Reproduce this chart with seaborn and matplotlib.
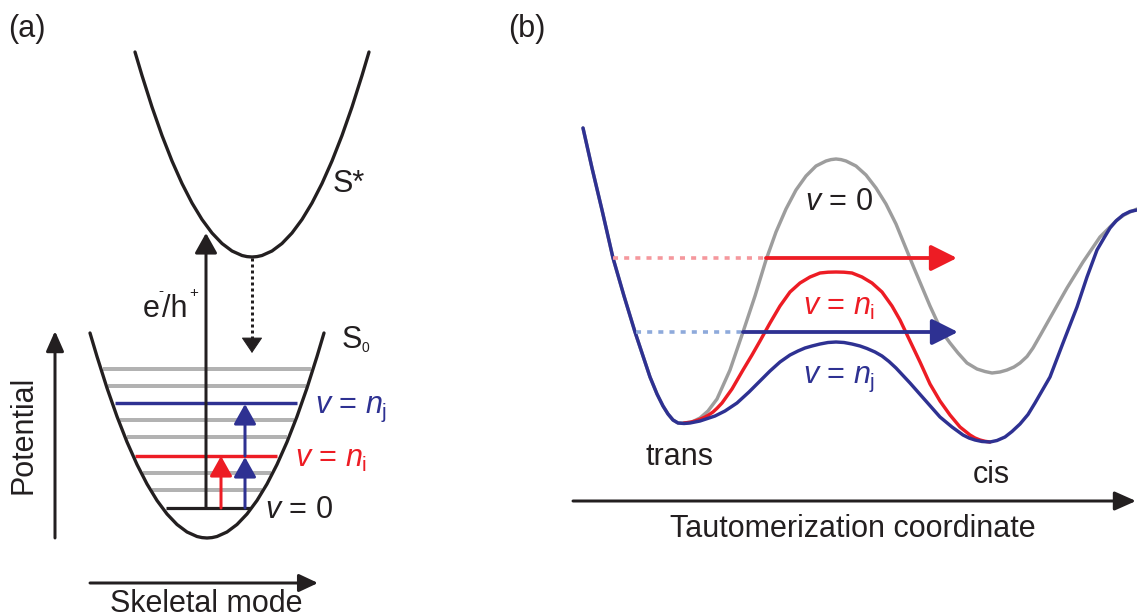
import matplotlib
matplotlib.use("Agg")
import matplotlib.pyplot as plt
from matplotlib.patches import ArrowStyle
import seaborn as sns

# ---------------- data (pixel units, y grows downward) ----------------
# panel (a): excited-state potential S*
s_star_x = [135, 142, 152, 162, 172, 182, 192, 202, 212, 222, 232, 242, 247, 252,
            257, 262, 272, 282, 292, 302, 312, 322, 332, 342, 352, 362, 369]
s_star_y = [52, 75.5, 107, 135.5, 161, 183.5, 203, 219.5, 233, 243.5, 251, 255.5, 256.6, 257,
            256.6, 255.5, 251, 243.5, 233, 219.5, 203, 183.5, 161, 135.5, 107, 75.5, 52]
# panel (a): ground-state potential S0
s0_x = [90, 97, 107, 117, 127, 137, 147, 157, 167, 177, 187, 197, 202, 207,
        212, 217, 227, 237, 247, 257, 267, 277, 287, 297, 307, 317, 324]
s0_y = [333, 356.5, 388, 416.5, 442, 464.5, 484, 500.5, 514, 524.5, 532, 536.5, 537.6, 538,
        537.6, 536.5, 532, 524.5, 514, 500.5, 484, 464.5, 442, 416.5, 388, 356.5, 333]
# vibrational levels inside S0
level_y = [369, 386, 403, 420, 437, 456, 473, 490, 508]
level_x0 = [103, 108, 115, 120, 127, 135, 143, 152, 166]
level_x1 = [311, 306, 297, 294, 287, 277, 271, 262, 250]
level_kind = ["gray", "gray", "nj", "gray", "gray", "ni", "gray", "gray", "v0"]

# panel (b): tautomerization potentials
nj_x = [583, 592, 602, 613, 624, 635, 643, 650, 657, 663, 668, 673, 678, 684, 690, 700, 715,
        725, 737, 749, 760, 770, 780, 790, 798, 805, 812, 820, 828, 836, 844, 852, 860, 867,
        875, 882, 889, 896, 910, 925, 940, 952, 963, 969, 975, 982, 990, 997, 1005, 1012,
        1020, 1028, 1035, 1050, 1063, 1077, 1087, 1097, 1104, 1110, 1116, 1123, 1130, 1137]
nj_y = [128, 168, 210, 258, 296, 332, 356, 377, 394, 406, 414, 420, 423, 423.5, 423, 421, 416,
        411, 403, 392, 381, 371, 362, 355, 351, 348, 346, 344, 342.5, 342, 342.5, 344, 346, 348.5,
        352, 356, 361.5, 368, 383, 400, 417, 427, 435, 438, 440, 441.5, 442, 440.5, 437, 431.5,
        424, 414.5, 403, 377, 343, 307, 277, 250, 238, 228, 221, 215, 211.5, 210]
v0_x = [583, 592, 602, 613, 624, 635, 643, 650, 657, 663, 668, 673, 678, 684, 692, 700, 708,
        717, 730, 743, 755, 766, 776, 786, 796, 806, 816, 826, 831, 836, 841, 846, 856, 866,
        876, 886, 896, 905, 914, 922, 930, 942, 950, 958, 967, 977, 985, 992, 1000, 1007, 1014,
        1020, 1027, 1033, 1041, 1050, 1067, 1083, 1100, 1117, 1124, 1130, 1137]
v0_y = [128, 168, 210, 258, 296, 332, 356, 377, 394, 406, 414, 420, 423, 423, 422, 418, 411,
        399, 370, 332, 296, 260, 232, 209, 190, 176, 166, 161, 159.6, 159, 159.6, 161, 166, 175,
        188, 204, 224, 246, 268, 287, 306, 332, 343, 353, 363, 369, 371.5, 373, 372, 370, 367,
        363, 356.5, 348, 334, 318, 288, 262, 237, 220, 215, 212, 209]
ni_x = [684, 690, 695, 700, 705, 709, 713, 717, 722, 732, 743, 752, 760, 770, 780, 790, 800,
        810, 815, 820, 828, 836, 844, 852, 857, 862, 872, 882, 892, 900, 910, 920, 930, 940,
        950, 960, 970, 975, 980, 985, 990]
ni_y = [423, 422.3, 421, 419.3, 417, 414.7, 412, 408.3, 403, 389, 370, 355, 341, 323, 306, 292,
        283, 277, 275, 273, 272.2, 272, 272.2, 273, 275, 277, 283, 292, 306, 320, 341, 362, 384,
        401, 415, 427, 435, 438, 440, 441.3, 442]

# arrows: (start, tip)
excite_arrow = ((206, 508), (206, 233))
relax_arrow = ((252, 258), (252, 353))
red_arrow_a = ((221, 508), (221, 456))
blue_arrow_a1 = ((245, 508), (245, 457))
blue_arrow_a2 = ((245, 456), (245, 404))
potential_axis = ((55, 538), (55, 331))
skeletal_axis = ((90, 583), (318, 583))
red_tunnel = ((613, 258), (766, 258), (957, 258))   # dotted start, solid start, tip
blue_tunnel = ((636, 332), (743, 332), (958, 332))
taut_axis = ((573, 501), (1136, 501))

# ---------------- styling ----------------
sns.set_theme(style="white")
plt.rcParams["font.family"] = ["Liberation Sans", "DejaVu Sans"]
plt.rcParams["mathtext.fontset"] = "custom"
plt.rcParams["mathtext.rm"] = "Liberation Sans"
plt.rcParams["mathtext.it"] = "Liberation Sans:italic"
plt.rcParams["mathtext.bf"] = "Liberation Sans:bold"

INK = "#231f20"
NAVY = "#2e3192"
RED = "#ed1c24"
GRAY_LEVEL = "#b2b2b2"
GRAY_CURVE = "#9d9d9d"
RED_LIGHT = "#f5989d"
BLUE_LIGHT = "#8eaadb"
FS = 22

PX = 100 / 72.0


def pt(px):
    return px / PX


fig = plt.figure(figsize=(11.37, 6.15), dpi=100)
ax = fig.add_axes([0, 0, 1, 1])
ax.set_xlim(0, 1137)
ax.set_ylim(615, 0)
ax.set_axis_off()


def curve(x, y, color, lw_px, z, ls="-"):
    sns.lineplot(x=x, y=y, sort=False, estimator=None, color=color,
                 linewidth=pt(lw_px), linestyle=ls, ax=ax, zorder=z,
                 solid_capstyle="round", solid_joinstyle="round")


def arrow(start, tip, color, lw_px, hl_px, hw_px, z=6):
    style = ArrowStyle("-|>", head_length=pt(hl_px), head_width=pt(hw_px) / 2)
    ax.annotate("", xy=tip, xytext=start, xycoords="data", textcoords="data",
                arrowprops=dict(arrowstyle=style, color=color, lw=pt(lw_px),
                                shrinkA=0, shrinkB=0, mutation_scale=1),
                zorder=z)


# ---------------- panel (a) ----------------
level_colors = {"gray": GRAY_LEVEL, "nj": NAVY, "ni": RED, "v0": INK}
level_widths = {"gray": 4.0, "nj": 3.4, "ni": 3.4, "v0": 3.2}
ax.hlines(level_y, level_x0, level_x1,
          colors=[level_colors[k] for k in level_kind],
          linewidths=[pt(level_widths[k]) for k in level_kind], zorder=2)

curve(s_star_x, s_star_y, INK, 3.3, 4)
curve(s0_x, s0_y, INK, 3.3, 4)

arrow(*excite_arrow, INK, 3.0, 17, 19)
# dotted relaxation arrow: dotted shaft + solid head
ax.plot([relax_arrow[0][0], relax_arrow[1][0]], [relax_arrow[0][1], relax_arrow[1][1] - 13],
        color=INK, lw=pt(3.0), linestyle=(0, (1, 1)), dash_capstyle="butt", zorder=5)
arrow((relax_arrow[1][0], relax_arrow[1][1] - 14), relax_arrow[1], INK, 1.0, 14, 19)
arrow(*red_arrow_a, RED, 3.0, 17, 19)
arrow(*blue_arrow_a1, NAVY, 3.0, 17, 19)
arrow(*blue_arrow_a2, NAVY, 3.0, 17, 19)
arrow(*potential_axis, INK, 3.0, 17, 15)
arrow(*skeletal_axis, INK, 3.0, 16, 15)

ax.text(8, 29, "(a)", fontsize=FS, color=INK, ha="left", va="center")
ax.text(333, 192, "S*", fontsize=FS, color=INK, ha="left", va="baseline")
ax.text(342, 348, "S", fontsize=FS, color=INK, ha="left", va="baseline")
ax.text(361, 352, "0", fontsize=10, color=INK, ha="left", va="baseline")
ax.text(143, 317, "e", fontsize=FS, color=INK, ha="left", va="baseline")
ax.text(158, 295, "-", fontsize=11, color=INK, ha="left", va="baseline")
ax.text(162, 317, "/h", fontsize=FS, color=INK, ha="left", va="baseline")
ax.text(189, 297, "+", fontsize=11, color=INK, ha="left", va="baseline")
ax.text(315, 413, r"$v$ = $n_{\mathrm{j}}$", fontsize=FS, color=NAVY, ha="left", va="baseline")
ax.text(295, 467, r"$v$ = $n_{\mathrm{i}}$", fontsize=FS, color=RED, ha="left", va="baseline")
ax.text(265, 518, r"$v$ = 0", fontsize=FS, color=INK, ha="left", va="baseline")
ax.text(23, 435, "Potential", fontsize=FS, color=INK, ha="center", va="center", rotation=90)
ax.text(206, 612, "Skeletal mode", fontsize=FS, color=INK, ha="center", va="baseline")

# ---------------- panel (b) ----------------
curve(v0_x, v0_y, GRAY_CURVE, 3.4, 3)
curve(ni_x, ni_y, RED, 3.4, 4)
curve(nj_x, nj_y, NAVY, 3.4, 5)

for (d0, s0, tip), light, col in ((red_tunnel, RED_LIGHT, RED), (blue_tunnel, BLUE_LIGHT, NAVY)):
    ax.plot([d0[0], s0[0]], [d0[1], s0[1]], color=light, lw=pt(3.6),
            linestyle=(0, (1.4, 1.7)), dash_capstyle="butt", zorder=6)
    arrow(s0, tip, col, 3.8, 22, 22, z=7)

arrow(*taut_axis, INK, 3.0, 18, 16)

ax.text(508, 29, "(b)", fontsize=FS, color=INK, ha="left", va="center")
ax.text(805, 210, r"$v$ = 0", fontsize=FS, color=INK, ha="left", va="baseline")
ax.text(803, 315, r"$v$ = $n_{\mathrm{i}}$", fontsize=FS, color=RED, ha="left", va="baseline")
ax.text(803, 383, r"$v$ = $n_{\mathrm{j}}$", fontsize=FS, color=NAVY, ha="left", va="baseline")
ax.text(646, 465, "trans", fontsize=FS, color=INK, ha="left", va="baseline")
ax.text(973, 483, "cis", fontsize=FS, color=INK, ha="left", va="baseline")
ax.text(670, 537, "Tautomerization coordinate", fontsize=FS, color=INK, ha="left", va="baseline")

fig.savefig("out.png", dpi=100)
